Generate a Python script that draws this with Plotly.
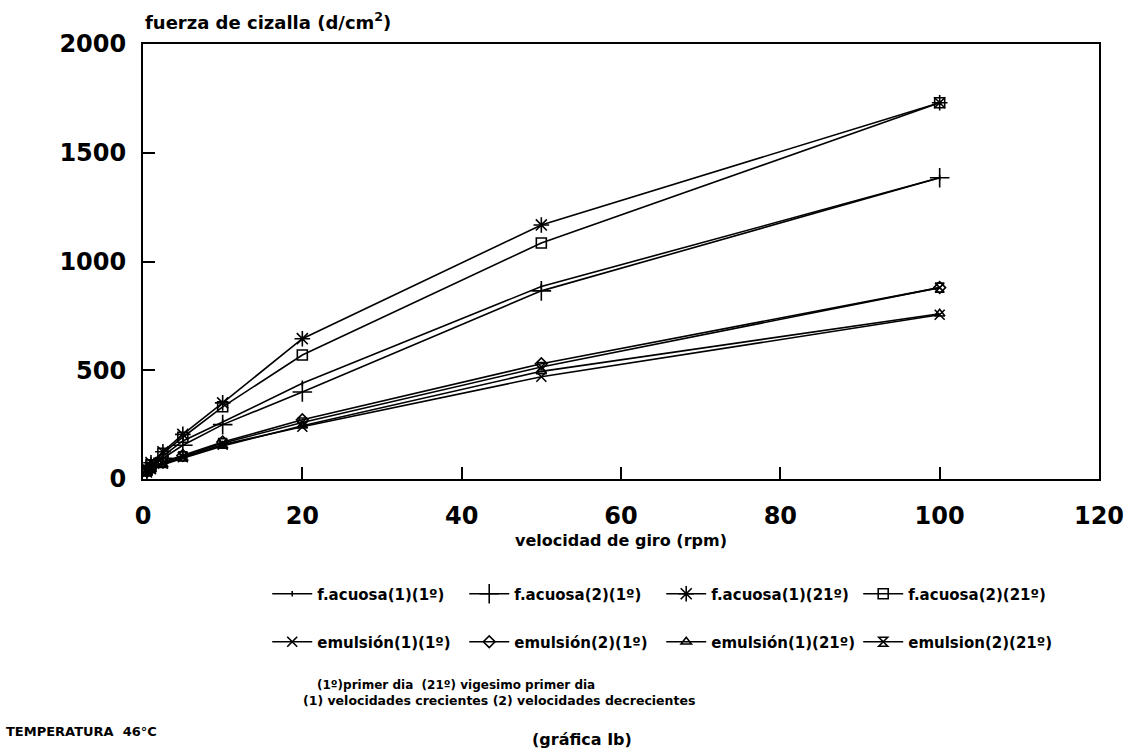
import plotly.graph_objects as go

# Velocidad de giro del viscosímetro (rpm)
rpm = [0.5, 1, 2.5, 5, 10, 20, 50, 100]

# Fuerza de cizalla (d/cm2) por serie
acuosa_1_1 = [40, 62, 105, 175, 262, 440, 885, 1385]
acuosa_2_1 = [35, 55, 95, 155, 250, 400, 865, 1385]
acuosa_1_21 = [45, 75, 125, 205, 350, 645, 1168, 1730]
acuosa_2_21 = [40, 65, 118, 192, 332, 570, 1085, 1730]
emulsion_1_1 = [30, 45, 70, 100, 158, 240, 470, 755]
emulsion_2_1 = [35, 52, 78, 108, 170, 272, 530, 880]
emulsion_1_21 = [30, 45, 66, 96, 152, 245, 495, 760]
emulsion_2_21 = [35, 50, 74, 104, 165, 260, 515, 880]

series_names = [
    "f.acuosa(1)(1º)", "f.acuosa(2)(1º)", "f.acuosa(1)(21º)", "f.acuosa(2)(21º)",
    "emulsión(1)(1º)", "emulsión(2)(1º)", "emulsión(1)(21º)", "emulsion(2)(21º)",
]
series_values = [
    acuosa_1_1, acuosa_2_1, acuosa_1_21, acuosa_2_21,
    emulsion_1_1, emulsion_2_1, emulsion_1_21, emulsion_2_21,
]
symbols = [
    ("line-ns-open", 4), ("cross-thin-open", 14), ("asterisk-open", 13), ("square-open", 10),
    ("x-thin-open", 10), ("diamond-open", 9), ("triangle-up-open", 9), ("hourglass-open", 9),
]

x_ticks = [0, 20, 40, 60, 80, 100, 120]
y_ticks = [0, 500, 1000, 1500, 2000]

FONT = "DejaVu Sans"
W, H = 1136, 755
PL, PR, PT, PB = 143, 1105, 44, 479   # plot area edges in page pixels


def px_x(px):
    return (px - PL) / (PR - PL)


def px_y(py):
    return (PB - py) / (PB - PT)


fig = go.Figure()
for i, (name, vals, (sym, size)) in enumerate(zip(series_names, series_values, symbols)):
    fig.add_trace(go.Scatter(
        x=rpm, y=vals, name=name, mode="lines+markers",
        legend="legend" if i < 4 else "legend2",
        line=dict(color="black", width=1.6),
        marker=dict(symbol=sym, size=size, color="black",
                    line=dict(color="black", width=1.6)),
    ))

legend_common = dict(
    orientation="h", xanchor="left", yanchor="middle",
    entrywidth=142, entrywidthmode="pixels", itemwidth=40,
    bgcolor="rgba(0,0,0,0)",
    font=dict(family=FONT, size=15, weight="bold", color="black"),
)

fig.update_layout(
    width=W, height=H,
    margin=dict(l=PL, r=W - PR, t=PT, b=H - PB),
    paper_bgcolor="white", plot_bgcolor="white",
    font=dict(family=FONT, color="black"),
    showlegend=True,
    legend=dict(x=px_x(268), y=px_y(594), **legend_common),
    legend2=dict(x=px_x(268), y=px_y(642), **legend_common),
)

fig.update_xaxes(
    range=[0, 120], tickvals=x_ticks, ticktext=[str(v) for v in x_ticks],
    showgrid=False, zeroline=False, showline=True, linecolor="black", linewidth=2,
    mirror=True, ticks="inside", ticklen=12, tickcolor="black", tickwidth=2,
    ticklabelstandoff=14,
    tickfont=dict(family=FONT, size=24, weight="bold"),
    title=dict(text="velocidad de giro (rpm)", standoff=6,
               font=dict(family=FONT, size=16, weight="bold")),
)
fig.update_yaxes(
    range=[0, 2000], tickvals=y_ticks, ticktext=[str(v) for v in y_ticks],
    showgrid=False, zeroline=False, showline=True, linecolor="black", linewidth=2,
    mirror=True, ticks="inside", ticklen=12, tickcolor="black", tickwidth=2,
    ticklabelstandoff=10,
    tickfont=dict(family=FONT, size=24, weight="bold"),
)

notes = [
    ("fuerza de cizalla (d/cm<sup>2</sup>)", 143, 21, 18),
    ("(1º)primer dia  (21º) vigesimo primer dia", 316, 685, 12),
    ("(1) velocidades crecientes (2) velocidades decrecientes", 302, 700, 12.5),
    ("TEMPERATURA  46°C", 3, 731, 13),
    ("(gráfica Ib)", 532, 739, 16),
]
for text, x, y, size in notes:
    fig.add_annotation(
        text=text, xref="paper", yref="paper", x=px_x(x), y=px_y(y),
        xanchor="left", yanchor="middle", showarrow=False,
        font=dict(family=FONT, size=size, weight="bold", color="black"),
    )

fig.write_html("out.html")
